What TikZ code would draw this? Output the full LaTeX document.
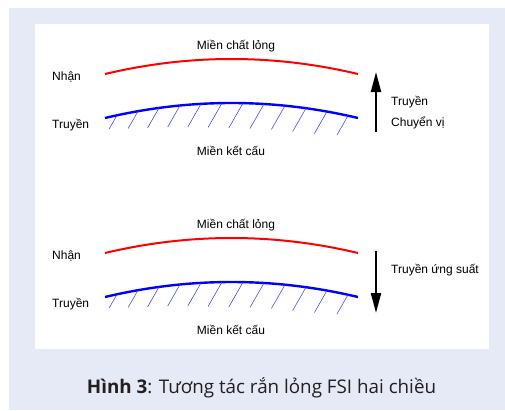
\documentclass[tikz,border=0pt]{standalone}
\usepackage{fontspec}
\setmainfont{Liberation Sans}
\newfontfamily\capfont{Open Sans}
\usetikzlibrary{arrows.meta}
\definecolor{panel}{RGB}{230,234,246}
\definecolor{captext}{RGB}{35,31,32}
\begin{document}
\begin{tikzpicture}[x=1pt,y=-1pt,
  txt/.style={font=\fontsize{12}{14}\selectfont, inner sep=0pt, anchor=base},
  fluidline/.style={red, line width=2pt},
  structline/.style={blue, line width=2.4pt},
  hatchline/.style={blue!80, line width=0.5pt},
  flow/.style={line width=2pt, -{Triangle[length=20pt,width=10pt]}},
  captxt/.style={font=\capfont\fontsize{18.8}{22}\selectfont, text=captext, inner sep=0pt, anchor=base}
]
\useasboundingbox (0,0) rectangle (505,410);
% frame and drawing area
\fill[panel] (9,8) rectangle (505,410);
\fill[white] (35,24) rectangle (489,349);

% two interface sketches, the second one 179 units lower
\foreach \k/\oy in {1/0, 2/179} {
  \begin{scope}[yshift=-\oy pt]
    \draw[fluidline] (105,74) .. controls (189.3,54) and (273.7,54) .. (358,74);
    \draw[structline] (105,118) .. controls (189.3,98) and (273.7,98) .. (358,118);
    % hatching below the structure boundary
    \foreach \xt/\yb in {117/129, 138/128.5, 159/128, 180/127, 201/127, 222/127.5,
                         243/128, 264/128.5, 285/129.5, 306/131.5, 327/133.5, 348/135} {
      \pgfmathsetmacro\tt{(\xt-105)/253}
      \pgfmathsetmacro\yt{118-60*\tt*(1-\tt)}
      \pgfmathsetmacro\xb{\xt-(\yb-\yt)/1.75}
      \draw[hatchline] (\xb,\yb) -- (\xt,\yt);
    }
    \node[txt] (fluid\k) at (236,49) {Miền chất lỏng};
    \node[txt, anchor=base west] (recv\k) at (52,80) {Nhận};
    \node[txt, anchor=base west] (send\k) at (52,128) {Truyền};
    \node[txt] (struct\k) at (231,155) {Miền kết cấu};
  \end{scope}
}

% transfer directions
\coordinate (upTail) at (376,132);
\coordinate (upTip) at (376,72);
\draw[flow] (upTail) -- (upTip);
\node[txt, anchor=base west] (dispA) at (391,105) {Truyền};
\node[txt, anchor=base west] (dispB) at (391,126) {Chuyển vị};

\coordinate (downTail) at (376,251);
\coordinate (downTip) at (376,313);
\draw[flow] (downTail) -- (downTip);
\node[txt, anchor=base west] (stress) at (391,273) {Truyền ứng suất};

% caption
\node[captxt] (caption) at (261.5,393) {\textbf{Hình 3}: Tương tác rắn lỏng FSI hai chiều};
\end{tikzpicture}
\end{document}
